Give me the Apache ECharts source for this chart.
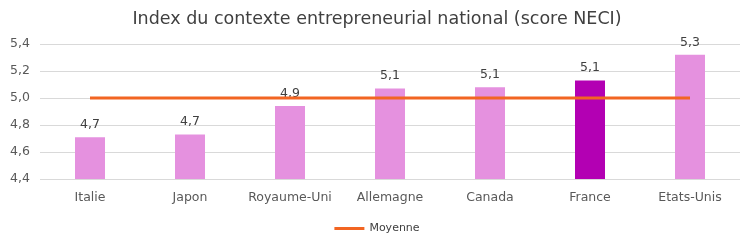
<!DOCTYPE html>
<html><head><meta charset="utf-8">
<script src="https://cdn.jsdelivr.net/npm/echarts@6/dist/echarts.min.js"></script>
<style>html,body{margin:0;padding:0;background:#fff}#c{width:754px;height:248px}</style>
</head><body><div id="c"></div>
<script>
const categories = ["Italie","Japon","Royaume-Uni","Allemagne","Canada","France","Etats-Unis"];
const scores = [4.71, 4.73, 4.94, 5.07, 5.08, 5.13, 5.32];
const moyenne = [5.0, 5.0, 5.0, 5.0, 5.0, 5.0, 5.0];
const highlight = "France";
const yTicks = [4.4, 4.6, 4.8, 5.0, 5.2, 5.4];

const FONT = "'DejaVu Sans', sans-serif";
const chart = echarts.init(document.getElementById('c'));
chart.setOption({
  animation: false,
  title: { text: "Index du contexte entrepreneurial national (score NECI)", left: 'center', top: 5,
    textStyle: { fontFamily: FONT, fontSize: 17.5, fontWeight: 'normal', color: '#404040' } },
  grid: { left: 40, right: 14, top: 44, bottom: 69 },
  legend: { bottom: 9, left: 'center', data: [{ name: 'Moyenne', icon: 'rect' }], itemWidth: 30, itemHeight: 3,
    textStyle: { fontFamily: FONT, fontSize: 11, color: '#404040' } },
  xAxis: { type: 'category', data: categories,
    axisLine: { show: false }, axisTick: { show: false },
    axisLabel: { interval: 0, fontFamily: FONT, fontSize: 12.5, color: '#595959', margin: 12 } },
  yAxis: { type: 'value', min: yTicks[0], max: yTicks[yTicks.length-1], interval: 0.2,
    axisLine: { show: false }, axisTick: { show: false },
    splitLine: { lineStyle: { color: '#d9d9d9' } },
    axisLabel: { fontFamily: FONT, fontSize: 12.5, color: '#595959', margin: 10,
      formatter: v => v.toFixed(1).replace('.', ',') } },
  series: [
    { name: 'NECI', type: 'bar', barWidth: 30,
      data: scores.map((v, i) => ({ value: v, itemStyle: { color: categories[i] === highlight ? '#b300b3' : '#e591df' } })),
      label: { show: true, position: 'top', distance: 6, fontFamily: FONT, fontSize: 12.5, color: '#404040',
        formatter: p => p.value.toFixed(1).replace('.', ',') } },
    { name: 'Moyenne', type: 'line', data: moyenne, symbol: 'none',
      lineStyle: { color: '#f26522', width: 3 }, itemStyle: { color: '#f26522' }, z: 5 }
  ]
});
</script></body></html>
